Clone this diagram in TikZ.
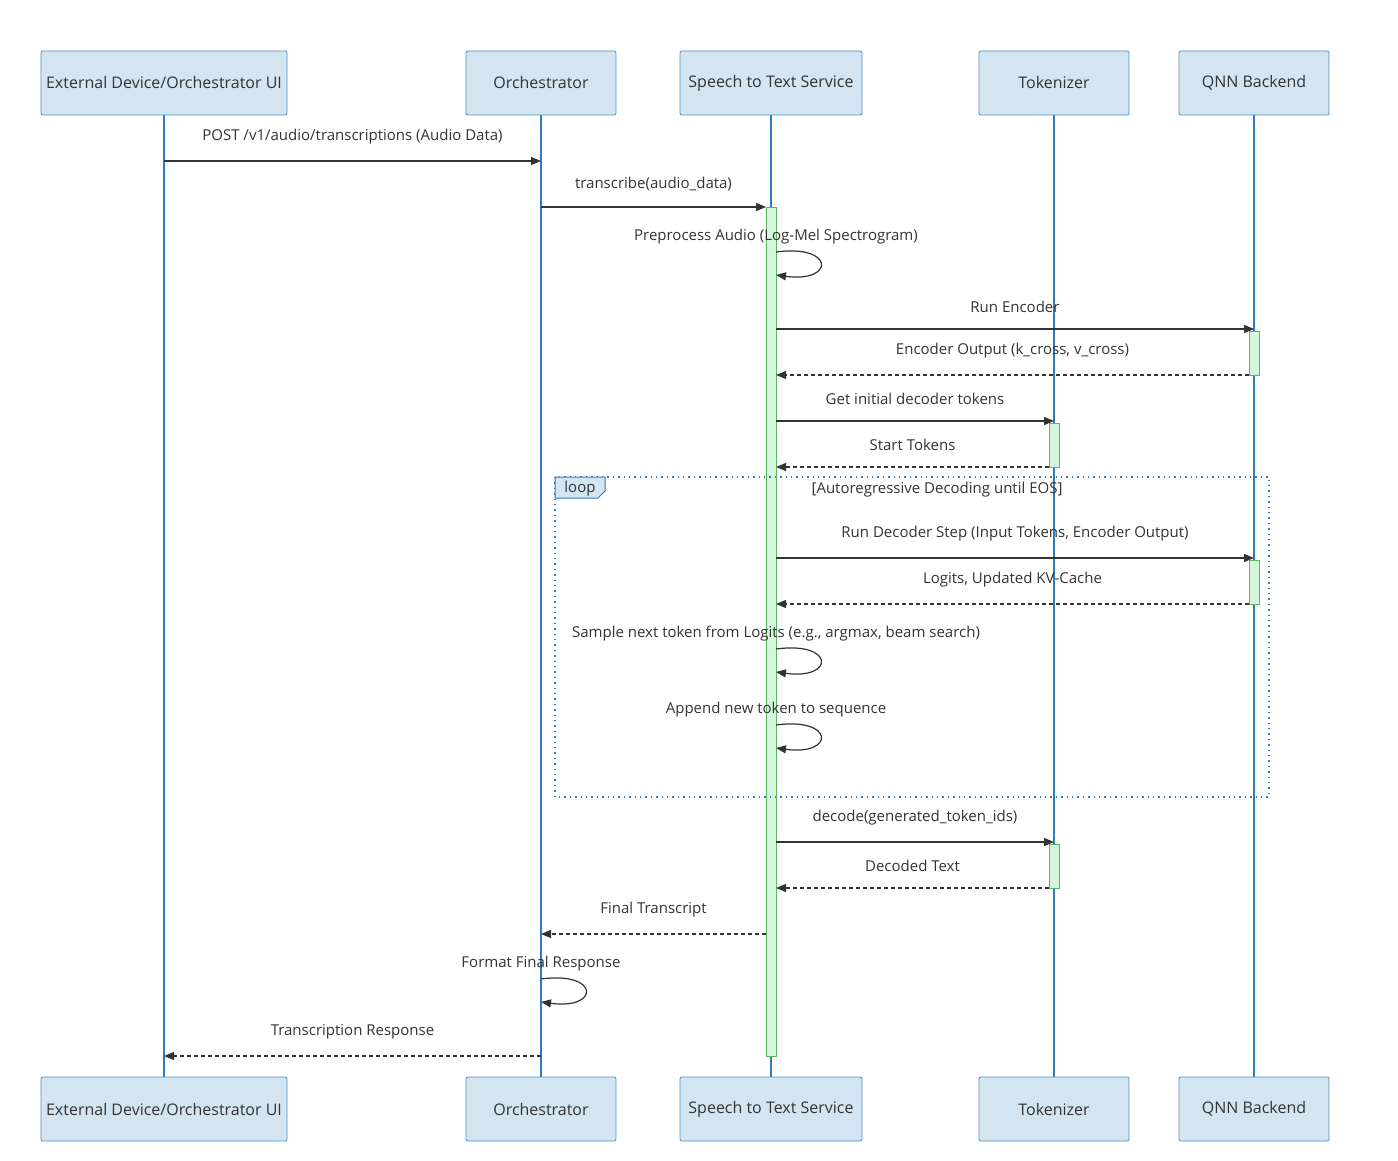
\documentclass[tikz,border=0pt]{standalone}
\usepackage{fontspec}
\setmainfont{Open Sans}
\usetikzlibrary{positioning, arrows.meta}
\definecolor{actorfill}{RGB}{212,229,242}
\definecolor{actordraw}{RGB}{74,144,200}
\definecolor{lifeblue}{RGB}{47,123,191}
\definecolor{actfill}{RGB}{213,245,220}
\definecolor{actdraw}{RGB}{92,184,92}
\definecolor{msgcol}{RGB}{51,51,51}
\tikzset{
	actor/.style = {rectangle, draw=actordraw, fill=actorfill, rounded corners=1pt, minimum height=32pt, inner sep=0pt, font=\fontsize{8}{9}\selectfont, text=msgcol},
	lifeline/.style = {draw=lifeblue, line width=0.9pt},
	activation/.style = {draw=actdraw, fill=actfill, line width=0.5pt},
	msg/.style = {-{Triangle[length=5pt,width=4pt]}, draw=msgcol, line width=0.6pt},
	reply/.style = {msg, dashed, dash pattern=on 2pt off 1.5pt},
	label/.style = {font=\fontsize{7.5}{9}\selectfont, text=msgcol, inner sep=0pt},
	loopbox/.style = {draw=lifeblue, dotted, line width=0.7pt}
}
\begin{document}
\begin{tikzpicture}[x=0.5pt, y=-0.5pt]
		\useasboundingbox (0,0) rectangle (1398,1161);
		
		% Actors top
		\node (ext_top) [actor, minimum width=123pt] at (164,83) {External Device/Orchestrator UI};
		\node (orch_top) [actor, minimum width=75pt] at (541,83) {Orchestrator};
		\node (stt_top) [actor, minimum width=91pt] at (771,83) {Speech to Text Service};
		\node (tok_top) [actor, minimum width=75pt] at (1054,83) {Tokenizer};
		\node (qnn_top) [actor, minimum width=75pt] at (1254,83) {QNN Backend};
		
		% Actors bottom
		\node (ext_bot) [actor, minimum width=123pt] at (164,1109) {External Device/Orchestrator UI};
		\node (orch_bot) [actor, minimum width=75pt] at (541,1109) {Orchestrator};
		\node (stt_bot) [actor, minimum width=91pt] at (771,1109) {Speech to Text Service};
		\node (tok_bot) [actor, minimum width=75pt] at (1054,1109) {Tokenizer};
		\node (qnn_bot) [actor, minimum width=75pt] at (1254,1109) {QNN Backend};
		
		% Lifelines
		\draw [lifeline] (ext_top) -- (ext_bot);
		\draw [lifeline] (orch_top) -- (orch_bot);
		\draw [lifeline] (stt_top) -- (stt_bot);
		\draw [lifeline] (tok_top) -- (tok_bot);
		\draw [lifeline] (qnn_top) -- (qnn_bot);
		
		% Activations
		\draw [activation] (766,207) rectangle (776,1056);
		\draw [activation] (1249,331) rectangle (1259,375);
		\draw [activation] (1049,423) rectangle (1059,467);
		\draw [activation] (1249,560) rectangle (1259,604);
		\draw [activation] (1049,844) rectangle (1059,888);
		
		% Loop frame
		\draw [loopbox] (555,477) rectangle (1269,797);
		\draw [draw=lifeblue, fill=actorfill, line width=0.5pt] (555,477) -- (605,477) -- (605,491) -- (598,498) -- (555,498) -- cycle;
		\node (loop_tag) [label] at (580,489) {loop};
		\node (loop_cond) [label] at (937,490) {[Autoregressive Decoding until EOS]};
		
		% Message end points
		\coordinate (ext_a) at (164,161); \coordinate (orch_a) at (541,161);
		\coordinate (orch_b) at (541,207); \coordinate (stt_b) at (766,207);
		\coordinate (stt_c) at (776,329); \coordinate (qnn_c) at (1254,329);
		\coordinate (qnn_d) at (1249,375); \coordinate (stt_d) at (776,375);
		\coordinate (stt_e) at (776,421); \coordinate (tok_e) at (1054,421);
		\coordinate (tok_f) at (1049,467); \coordinate (stt_f) at (776,467);
		\coordinate (stt_g) at (776,558); \coordinate (qnn_g) at (1254,558);
		\coordinate (qnn_h) at (1249,604); \coordinate (stt_h) at (776,604);
		\coordinate (stt_i) at (776,842); \coordinate (tok_i) at (1054,842);
		\coordinate (tok_j) at (1049,888); \coordinate (stt_j) at (776,888);
		\coordinate (stt_k) at (766,934); \coordinate (orch_k) at (541,934);
		\coordinate (orch_l) at (541,1056); \coordinate (ext_l) at (164,1056);
		
		% Messages
		\draw [msg] (ext_a) -- node[label, above=8pt] {POST /v1/audio/transcriptions (Audio Data)} (orch_a);
		\draw [msg] (orch_b) -- node[label, above=8pt] {transcribe(audio\_data)} (stt_b);
		\node (pre_lbl) [label] at (776,237) {Preprocess Audio (Log-Mel Spectrogram)};
		\draw [msg] (776,252) .. controls (835,244) and (835,283) .. (776,275);
		\draw [msg] (stt_c) -- node[label, above=8pt] {Run Encoder} (qnn_c);
		\draw [reply] (qnn_d) -- node[label, above=8pt] {Encoder Output (k\_cross, v\_cross)} (stt_d);
		\draw [msg] (stt_e) -- node[label, above=8pt] {Get initial decoder tokens} (tok_e);
		\draw [reply] (tok_f) -- node[label, above=8pt] {Start Tokens} (stt_f);
		\draw [msg] (stt_g) -- node[label, above=8pt] {Run Decoder Step (Input Tokens, Encoder Output)} (qnn_g);
		\draw [reply] (qnn_h) -- node[label, above=8pt] {Logits, Updated KV-Cache} (stt_h);
		\node (sample_lbl) [label] at (776,634) {Sample next token from Logits (e.g., argmax, beam search)};
		\draw [msg] (776,649) .. controls (835,641) and (835,680) .. (776,672);
		\node (append_lbl) [label] at (776,710) {Append new token to sequence};
		\draw [msg] (776,725) .. controls (835,717) and (835,756) .. (776,748);
		\draw [msg] (stt_i) -- node[label, above=8pt] {decode(generated\_token\_ids)} (tok_i);
		\draw [reply] (tok_j) -- node[label, above=8pt] {Decoded Text} (stt_j);
		\draw [reply] (stt_k) -- node[label, above=8pt] {Final Transcript} (orch_k);
		\node (format_lbl) [label] at (541,964) {Format Final Response};
		\draw [msg] (541,979) .. controls (600,971) and (600,1010) .. (541,1002);
		\draw [reply] (orch_l) -- node[label, above=8pt] {Transcription Response} (ext_l);
		
\end{tikzpicture}
\end{document}
